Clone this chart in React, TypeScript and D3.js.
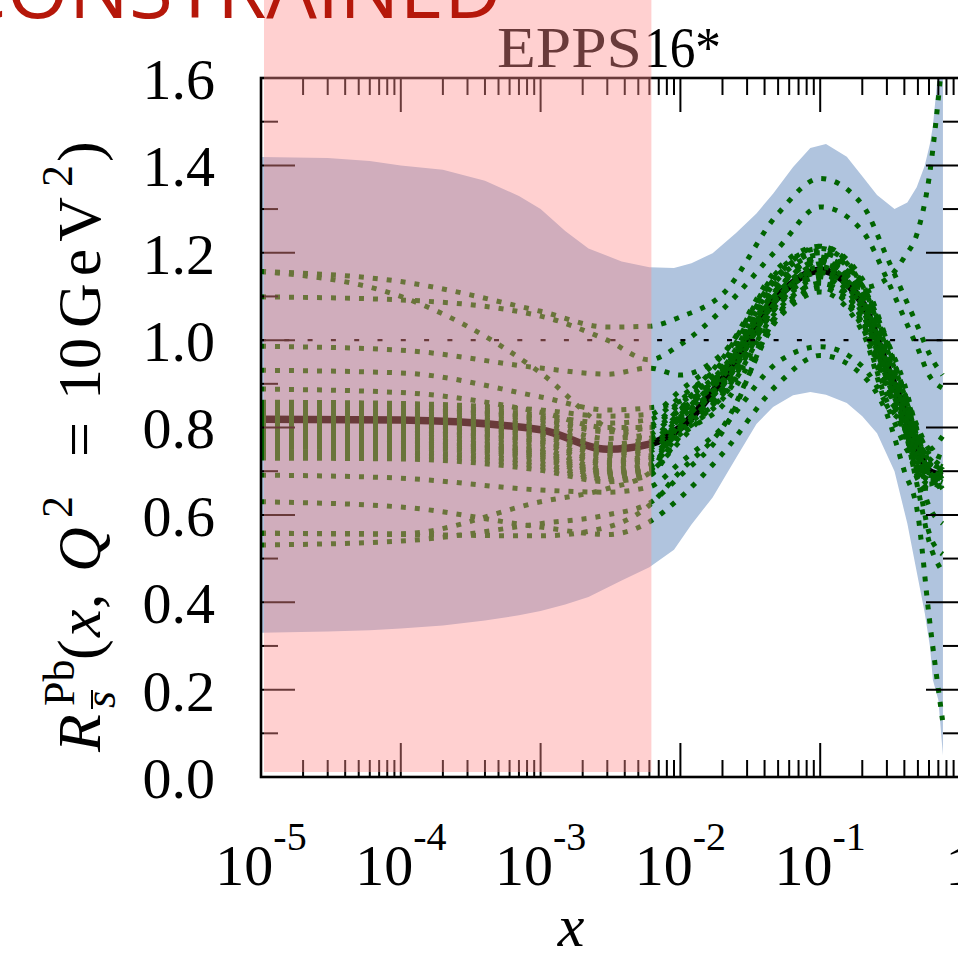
import React from 'react';
import * as d3 from 'd3';

// x grid for the error-set curves
const CX = [1e-5, 1e-4, 1e-3, 3e-3, 6e-3, 0.01, 0.02, 0.05, 0.1, 0.2, 0.3, 0.4, 0.5, 0.6, 0.75];

// central fit
const central = [0.819, 0.817, 0.795, 0.750, 0.762, 0.80, 0.91, 1.10, 1.16, 1.085, 0.94, 0.84, 0.75, 0.70, 0.69];

// distinct error sets
const err01 = [1.157, 1.134, 1.066, 1.030, 1.032, 1.053, 1.105, 1.290, 1.370, 1.310, 1.190, 1.100, 1.030, 0.970, 0.920];
const err02 = [1.099, 1.092, 1.055, 1.000, 0.955, 0.990, 1.070, 1.210, 1.305, 1.250, 1.140, 1.050, 0.980, 0.920, 0.890];
const err03 = [1.157, 1.100, 0.925, 0.800, 0.775, 0.820, 0.930, 1.120, 1.180, 1.100, 0.960, 0.860, 0.790, 0.750, 0.780];
const err04 = [0.986, 0.977, 0.936, 0.922, 0.936, 0.920, 0.970, 1.150, 1.215, 1.140, 1.000, 0.880, 0.800, 0.750, 0.730];
const err05 = [0.931, 0.925, 0.870, 0.840, 0.845, 0.860, 0.940, 1.120, 1.190, 1.110, 0.970, 0.860, 0.780, 0.710, 0.660];
const err06 = [0.888, 0.880, 0.835, 0.800, 0.800, 0.840, 0.930, 1.110, 1.170, 1.090, 0.950, 0.850, 0.770, 0.700, 0.680];
const err07 = [0.691, 0.684, 0.657, 0.652, 0.664, 0.720, 0.800, 0.950, 0.985, 0.940, 0.850, 0.760, 0.700, 0.620, 0.580];
const err08 = [0.630, 0.618, 0.572, 0.555, 0.584, 0.640, 0.740, 0.900, 0.965, 0.920, 0.830, 0.700, 0.600, 0.370, 0.130];
const err09 = [0.558, 0.557, 0.630, 0.660, 0.696, 0.770, 0.880, 1.080, 1.150, 1.120, 1.140, 1.190, 1.250, 1.370, 1.650];
const err10 = [0.558, 0.555, 0.552, 0.572, 0.622, 0.700, 0.800, 1.050, 1.120, 1.040, 0.900, 0.780, 0.680, 0.560, 0.510];
const err11 = [0.531, 0.540, 0.580, 0.600, 0.627, 0.690, 0.790, 1.060, 1.130, 1.060, 0.920, 0.800, 0.660, 0.540, 0.470];

// error sets close to the central fit
const near01 = [0.858, 0.855, 0.840, 0.826, 0.830, 0.885, 0.965, 1.165, 1.215, 1.130, 0.990, 0.880, 0.770, 0.730, 0.710];
const near02 = [0.850, 0.848, 0.828, 0.810, 0.818, 0.870, 0.950, 1.150, 1.205, 1.120, 0.970, 0.870, 0.780, 0.720, 0.700];
const near03 = [0.842, 0.840, 0.818, 0.790, 0.800, 0.855, 0.935, 1.140, 1.195, 1.110, 0.960, 0.860, 0.760, 0.710, 0.690];
const near04 = [0.835, 0.832, 0.810, 0.775, 0.785, 0.845, 0.925, 1.130, 1.185, 1.100, 0.950, 0.850, 0.750, 0.700, 0.680];
const near05 = [0.828, 0.826, 0.802, 0.762, 0.775, 0.835, 0.915, 1.120, 1.178, 1.090, 0.940, 0.840, 0.740, 0.690, 0.670];
const near06 = [0.812, 0.810, 0.788, 0.745, 0.758, 0.825, 0.905, 1.110, 1.170, 1.080, 0.930, 0.830, 0.730, 0.680, 0.680];
const near07 = [0.805, 0.803, 0.780, 0.735, 0.745, 0.815, 0.895, 1.100, 1.160, 1.070, 0.920, 0.820, 0.720, 0.670, 0.690];
const near08 = [0.798, 0.796, 0.772, 0.725, 0.735, 0.805, 0.885, 1.090, 1.150, 1.060, 0.910, 0.810, 0.710, 0.680, 0.700];
const near09 = [0.790, 0.788, 0.762, 0.715, 0.725, 0.795, 0.875, 1.080, 1.140, 1.050, 0.900, 0.800, 0.700, 0.670, 0.710];
const near10 = [0.782, 0.780, 0.752, 0.705, 0.715, 0.785, 0.865, 1.070, 1.130, 1.040, 0.890, 0.800, 0.690, 0.660, 0.720];
const near11 = [0.775, 0.772, 0.745, 0.700, 0.712, 0.810, 0.900, 1.100, 1.175, 1.100, 0.970, 0.860, 0.760, 0.700, 0.680];
const near12 = [0.765, 0.763, 0.738, 0.695, 0.705, 0.825, 0.920, 1.125, 1.190, 1.115, 0.985, 0.880, 0.780, 0.720, 0.700];
const near13 = [0.755, 0.753, 0.728, 0.688, 0.700, 0.840, 0.940, 1.145, 1.200, 1.125, 1.000, 0.900, 0.790, 0.740, 0.710];
const near14 = [0.745, 0.743, 0.718, 0.682, 0.695, 0.790, 0.870, 1.060, 1.120, 1.030, 0.860, 0.790, 0.680, 0.660, 0.670];
const near15 = [0.738, 0.736, 0.710, 0.680, 0.692, 0.780, 0.850, 1.050, 1.110, 1.020, 0.850, 0.800, 0.700, 0.680, 0.660];
const near16 = [0.730, 0.728, 0.702, 0.676, 0.690, 0.800, 0.880, 1.085, 1.145, 1.045, 0.875, 0.810, 0.720, 0.690, 0.690];
const near17 = [0.848, 0.845, 0.822, 0.795, 0.805, 0.862, 0.958, 1.158, 1.210, 1.125, 0.980, 0.875, 0.775, 0.725, 0.705];
const near18 = [0.822, 0.820, 0.798, 0.755, 0.768, 0.830, 0.925, 1.118, 1.182, 1.098, 0.955, 0.848, 0.755, 0.705, 0.690];
const near19 = [0.808, 0.806, 0.784, 0.740, 0.752, 0.818, 0.908, 1.105, 1.165, 1.085, 0.935, 0.835, 0.745, 0.695, 0.685];
const near20 = [0.770, 0.768, 0.742, 0.698, 0.710, 0.812, 0.895, 1.095, 1.155, 1.075, 0.925, 0.825, 0.735, 0.690, 0.700];
const near21 = [0.795, 0.793, 0.768, 0.720, 0.730, 0.800, 0.890, 1.095, 1.168, 1.092, 0.948, 0.845, 0.758, 0.700, 0.675];
const near22 = [0.760, 0.758, 0.733, 0.692, 0.703, 0.830, 0.930, 1.135, 1.185, 1.105, 0.965, 0.865, 0.770, 0.715, 0.695];

// uncertainty band
const bandX = [1e-5, 3e-5, 6e-5, 1e-4, 2e-4, 4e-4, 7e-4, 1e-3, 1.5e-3, 2.2e-3, 3.8e-3, 6e-3, 0.009, 0.012, 0.017, 0.025, 0.035, 0.046, 0.064, 0.085, 0.11, 0.155, 0.2, 0.255, 0.34, 0.42, 0.49, 0.56, 0.61, 0.64, 0.70, 0.755];
const bandHi = [1.419, 1.417, 1.41, 1.40, 1.39, 1.365, 1.33, 1.30, 1.25, 1.21, 1.18, 1.167, 1.165, 1.176, 1.199, 1.245, 1.29, 1.335, 1.396, 1.44, 1.449, 1.42, 1.375, 1.332, 1.30, 1.315, 1.35, 1.40, 1.45, 1.49, 1.62, 1.65];
const bandLo = [0.33, 0.333, 0.336, 0.34, 0.347, 0.358, 0.37, 0.38, 0.395, 0.412, 0.45, 0.48, 0.52, 0.578, 0.64, 0.73, 0.808, 0.847, 0.874, 0.881, 0.875, 0.856, 0.826, 0.787, 0.70, 0.58, 0.47, 0.375, 0.298, 0.222, 0.176, 0.05];

// unconstrained region
const unconstrainedXMax = 0.0062;

const yTickValues = [0, 0.2, 0.4, 0.6, 0.8, 1.0, 1.2, 1.4, 1.6];
const yTickLabels = ['0.0', '0.2', '0.4', '0.6', '0.8', '1.0', '1.2', '1.4', '1.6'];
const xDecades = [1e-5, 1e-4, 1e-3, 1e-2, 1e-1, 1];
const xExponents = ['-5', '-4', '-3', '-2', '-1', ''];

const SERIF = '"Liberation Serif", "Times New Roman", serif';

export default function App() {
  const W = 958, H = 954;
  const L = 261, R = 960, T = 78, B = 777;
  const x = d3.scaleLog().domain([1e-5, 1]).range([L, R]);
  const y = d3.scaleLinear().domain([0, 1.6]).range([B, T]);

  const line = d3.line<number>()
    .x((_, i) => x(CX[i]))
    .y(d => y(d))
    .curve(d3.curveMonotoneX);
  const area = d3.area<number>()
    .x((_, i) => x(bandX[i]))
    .y0((_, i) => y(bandLo[i]))
    .y1(d => y(d));

  const errSets = [near01, near02, near03, near04, near05, near06, near07, near08, near09, near10,
    near11, near12, near13, near14, near15, near16, near17, near18, near19, near20, near21, near22,
    err01, err02, err03, err04, err05, err06, err07, err08, err09, err10, err11];

  const xt = x.ticks();
  const yt = y.ticks(16);
  const isMajorX = (v: number) => Math.abs(Math.log10(v) - Math.round(Math.log10(v))) < 1e-6;
  const isMajorY = (v: number) => Math.abs(v * 5 - Math.round(v * 5)) < 1e-6;

  return (
    <svg width={W} height={H} style={{ position: 'absolute', left: 0, top: 0, background: '#fff' }}>
      <defs>
        <clipPath id="plotClip">
          <rect x={L} y={T} width={R - L} height={B - T} />
        </clipPath>
      </defs>
      <rect x={0} y={0} width={W} height={H} fill="#fff" />

      {/* title */}
      <text x={497} y={67} fontFamily={SERIF} fontSize={58} textLength={145} lengthAdjust="spacingAndGlyphs" fill="#000">EPPS</text>
      <text x={644} y={67} fontFamily={SERIF} fontSize={58} textLength={77} lengthAdjust="spacingAndGlyphs" fill="#000">16*</text>

      <g clipPath="url(#plotClip)">
        <path d={area(bandHi) || ''} fill="#b0c4de" />
        <path d={line(central) || ''} fill="none" stroke="#000" strokeWidth={7.5} />
        {errSets.map((s, i) => (
          <path key={i} d={line(s) || ''} fill="none" stroke="#006400" strokeWidth={5} strokeDasharray="5 9" />
        ))}
        <line x1={L} x2={R} y1={y(1)} y2={y(1)} stroke="#000" strokeWidth={2.2} strokeDasharray="5 18.3" />
      </g>

      {/* ticks */}
      <g stroke="#000" strokeWidth={2}>
        {xt.map((v, i) => {
          const len = isMajorX(v) ? 34 : 17;
          const px = x(v);
          return (
            <g key={'xt' + i}>
              <line x1={px} x2={px} y1={B} y2={B - len} />
              <line x1={px} x2={px} y1={T} y2={T + len} />
            </g>
          );
        })}
        {yt.map((v, i) => {
          const len = isMajorY(v) ? 34 : 17;
          const py = y(v);
          return (
            <g key={'yt' + i}>
              <line x1={L} x2={L + len} y1={py} y2={py} />
              <line x1={R} x2={R - len} y1={py} y2={py} />
            </g>
          );
        })}
      </g>
      <rect x={L} y={T} width={R - L} height={B - T} fill="none" stroke="#000" strokeWidth={2.6} />

      {/* unconstrained overlay */}
      <rect x={x(1e-5) + 3} y={0} width={x(unconstrainedXMax) - x(1e-5) - 3} height={y(0.0114)}
        fill="rgb(255,141,141)" fillOpacity={0.41} />

      {/* y tick labels */}
      {yTickValues.map((v, i) => (
        <text key={'yl' + i} x={215} y={y(v)} dy="0.36em" textAnchor="end" fontFamily={SERIF} fontSize={58} fill="#000">
          {yTickLabels[i]}
        </text>
      ))}

      {/* x tick labels */}
      {xDecades.map((v, i) => (
        <text key={'xl' + i} x={x(v)} y={885} textAnchor="middle" fontFamily={SERIF} fontSize={58} fill="#000">
          {xExponents[i] === '' ? '1' : '10'}
          {xExponents[i] !== '' && <tspan dy={-35} fontSize={40}>{xExponents[i]}</tspan>}
        </text>
      ))}

      {/* x axis title */}
      <text x={571} y={946} textAnchor="middle" fontFamily={SERIF} fontStyle="italic" fontSize={60} fill="#000">x</text>

      {/* y axis title */}
      <g transform="translate(100,752) rotate(-90)" fontFamily={SERIF} fontSize={62} fill="#000">
        <text x={0} y={0} fontStyle="italic">R</text>
        <text x={46} y={-26} fontSize={44}>Pb</text>
        <text x={44} y={15} fontSize={44} fontStyle="italic">s</text>
        <line x1={43} x2={62} y1={-8} y2={-8} stroke="#000" strokeWidth={2} />
        <text x={92} y={0}>(</text>
        <text x={115} y={0} fontStyle="italic">x</text>
        <text x={143} y={0}>,</text>
        <text x={180} y={0} fontStyle="italic">Q</text>
        <text x={234} y={-28} fontSize={44}>2</text>
        <text x={295} y={0}>=</text>
        <text x={352} y={0}>10</text>
        <text x={424} y={0} letterSpacing={7}>GeV</text>
        <text x={565} y={-28} fontSize={44}>2</text>
        <text x={590} y={0}>)</text>
      </g>

      {/* region label */}
      <text x={502} y={18} textAnchor="end" fontFamily='"Open Sans", sans-serif' fontSize={80} fill="#b5170a">UNCONSTRAINED</text>
    </svg>
  );
}
